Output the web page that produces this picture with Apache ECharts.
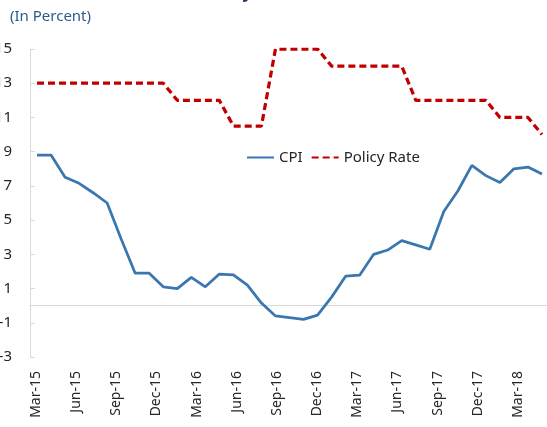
<!DOCTYPE html>
<html>
<head>
<meta charset="utf-8">
<script src="https://cdn.jsdelivr.net/npm/echarts@6/dist/echarts.min.js"></script>
<style>
  html, body { margin: 0; padding: 0; background: #fff; }
  #chart { width: 547px; height: 427px; }
</style>
</head>
<body>
<div id="chart"></div>
<script>
// 月度类目 (Mar-15 ~ Mar-18)
const months = [
  'Mar-15', 'Apr-15', 'May-15', 'Jun-15', 'Jul-15', 'Aug-15', 'Sep-15', 'Oct-15', 'Nov-15', 'Dec-15',
  'Jan-16', 'Feb-16', 'Mar-16', 'Apr-16', 'May-16', 'Jun-16', 'Jul-16', 'Aug-16', 'Sep-16', 'Oct-16',
  'Nov-16', 'Dec-16', 'Jan-17', 'Feb-17', 'Mar-17', 'Apr-17', 'May-17', 'Jun-17', 'Jul-17', 'Aug-17',
  'Sep-17', 'Oct-17', 'Nov-17', 'Dec-17', 'Jan-18', 'Feb-18', 'Mar-18'
]
// 横轴刻度标签（每季度）
const quarterLabels = [
  'Mar-15', 'Jun-15', 'Sep-15', 'Dec-15', 'Mar-16', 'Jun-16', 'Sep-16',
  'Dec-16', 'Mar-17', 'Jun-17', 'Sep-17', 'Dec-17', 'Mar-18'
]
// CPI 通胀
const cpi = [
  8.8, 8.8, 7.5, 7.15, 6.6, 6.0, 3.9, 1.9, 1.9, 1.1,
  1.0, 1.65, 1.1, 1.85, 1.8, 1.2, 0.15, -0.6, -0.7, -0.8,
  -0.55, 0.5, 1.72, 1.78, 3.0, 3.25, 3.8, 3.55, 3.3, 5.5,
  6.7, 8.2, 7.6, 7.2, 8.0, 8.1, 7.7
]
// 政策利率
const policyRate = [
  13, 13, 13, 13, 13, 13, 13, 13, 13, 13,
  12, 12, 12, 12, 10.5, 10.5, 10.5, 15, 15, 15,
  15, 14, 14, 14, 14, 14, 14, 12, 12, 12,
  12, 12, 12, 11, 11, 11, 10
]
// 纵轴范围
const yMin = -3
const yMax = 15
const yStep = 2

const font = '"Noto Sans", "Open Sans", sans-serif'
const axisGray = '#d9d9d9'

const myChart = echarts.init(document.getElementById('chart'))
const option = {
  animation: false,
  graphic: [
    {
      type: 'text',
      left: 8,
      top: -15,
      style: {
        text: 'Headline Inflation and Policy Rate',
        font: 'bold 17px ' + font,
        fill: '#1f3864'
      }
    },
    {
      type: 'text',
      left: 10,
      top: 9,
      style: {
        text: '(In Percent)',
        font: '15px ' + font,
        fill: '#2e5c8a'
      }
    }
  ],
  legend: {
    left: 246,
    top: 150,
    padding: 0,
    itemWidth: 27,
    itemHeight: 14,
    itemGap: 8,
    itemStyle: { opacity: 0 }, // 图例不画圆点
    textStyle: { fontFamily: font, fontSize: 15, color: '#262626' },
    data: ['CPI', 'Policy Rate']
  },
  grid: [
    { left: 30, right: -2, top: 49, bottom: 70, outerBoundsMode: 'none' },
    // 只用来摆放横轴标签
    { left: 36, width: 482, top: 49, bottom: 70, outerBoundsMode: 'none' }
  ],
  xAxis: [
    {
      type: 'category',
      gridIndex: 0,
      data: months,
      boundaryGap: true,
      axisLine: { onZero: true, lineStyle: { color: axisGray, width: 1 } },
      axisTick: { inside: true, length: 7, interval: 2, lineStyle: { color: axisGray } },
      axisLabel: { show: false }
    },
    {
      type: 'category',
      gridIndex: 1,
      data: quarterLabels,
      boundaryGap: false,
      position: 'bottom',
      axisLine: { show: false },
      axisTick: { show: false },
      axisLabel: {
        rotate: 90,
        margin: 14,
        interval: 0,
        fontFamily: font,
        fontSize: 14,
        color: '#262626'
      }
    }
  ],
  yAxis: [
    {
      type: 'value',
      gridIndex: 0,
      min: yMin,
      max: yMax,
      interval: yStep,
      axisLine: { show: true, lineStyle: { color: axisGray, width: 1 } },
      axisTick: { show: true, inside: true, length: 5, lineStyle: { color: axisGray } },
      splitLine: { show: false },
      axisLabel: {
        margin: 18,
        fontFamily: font,
        fontSize: 15,
        color: '#262626'
      }
    },
    {
      type: 'value',
      gridIndex: 1,
      min: yMin,
      max: yMax,
      show: false
    }
  ],
  series: [
    {
      name: 'CPI',
      type: 'line',
      xAxisIndex: 0,
      yAxisIndex: 0,
      data: cpi,
      symbol: 'none',
      lineStyle: { color: '#3a77b0', width: 2.75 },
      itemStyle: { color: '#3a77b0' },
      z: 3
    },
    {
      name: 'Policy Rate',
      type: 'line',
      xAxisIndex: 0,
      yAxisIndex: 0,
      data: policyRate,
      symbol: 'none',
      lineStyle: { color: '#c00000', width: 3.25, type: [7, 4] },
      itemStyle: { color: '#c00000' },
      z: 2
    }
  ]
}
myChart.setOption(option)
</script>
</body>
</html>
